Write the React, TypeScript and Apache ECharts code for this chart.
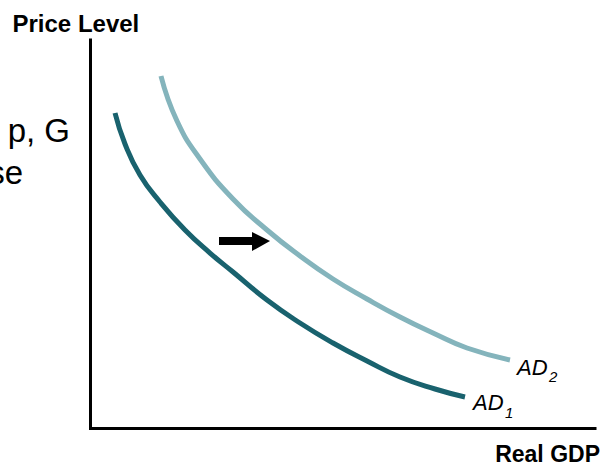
import React, { useEffect, useRef } from "react";
import * as echarts from "echarts";

// Aggregate demand curves, in axis units (0–100 on both axes)
const ad1X = [4.86, 6.84, 9.81, 13.77, 18.73, 23.69, 28.25, 34.99, 41.53, 48.07, 54.81, 61.35, 68.29, 74.23];
const ad1Y = [81.19, 73.2, 65.21, 58.25, 51.03, 45.1, 40.21, 32.99, 27.06, 21.91, 17.27, 13.14, 10.05, 7.99];
const ad2X = [13.97, 17.15, 21.71, 28.25, 34.99, 41.53, 48.07, 54.81, 61.35, 67.89, 74.63, 83.15];
const ad2Y = [90.72, 79.12, 69.33, 59.02, 51.03, 44.33, 38.4, 33.25, 28.61, 24.48, 20.62, 17.53];

const axisNames = ["Price Level", "Real GDP"];
const curveNames = ["AD", "AD"];
const curveSubs = ["1", "2"];
const sideText = ["p, G", "se"];

const FONT = "'Liberation Sans', Arial, Helvetica, sans-serif";
const DARK = "#19626e";
const LIGHT = "#84b4bc";

export default function App() {
  const ref = useRef<HTMLDivElement>(null);
  useEffect(() => {
    document.body.style.margin = "0";
    if (!ref.current) return;
    const chart = echarts.init(ref.current, undefined, { renderer: "svg" });
    const pair = (xs: number[], ys: number[]) => xs.map((x, i) => [x, ys[i]]);
    chart.setOption({
      animation: false,
      backgroundColor: "#ffffff",
      grid: { left: 90.5, right: 8, top: 40, bottom: 39 },
      xAxis: {
        type: "value",
        min: 0,
        max: 100,
        axisLine: { show: true, lineStyle: { color: "#000", width: 3, cap: "square" } },
        axisTick: { show: false },
        axisLabel: { show: false },
        splitLine: { show: false },
      },
      yAxis: {
        type: "value",
        min: 0,
        max: 100,
        axisLine: { show: true, lineStyle: { color: "#000", width: 3, cap: "square" } },
        axisTick: { show: false },
        axisLabel: { show: false },
        splitLine: { show: false },
      },
      series: [
        {
          type: "line",
          name: "AD1",
          data: pair(ad1X, ad1Y),
          smooth: 0.5,
          symbol: "none",
          lineStyle: { color: DARK, width: 5 },
        },
        {
          type: "line",
          name: "AD2",
          data: pair(ad2X, ad2Y),
          smooth: 0.5,
          symbol: "none",
          lineStyle: { color: LIGHT, width: 5 },
        },
      ],
      graphic: [
        {
          type: "text",
          x: 12.5,
          y: 23.5,
          style: { text: axisNames[0], font: `bold 24px ${FONT}`, fill: "#000", verticalAlign: "middle" },
        },
        {
          type: "text",
          x: 600,
          y: 453.5,
          style: { text: axisNames[1], font: `bold 23px ${FONT}`, fill: "#000", align: "right", verticalAlign: "middle" },
        },
        {
          type: "text",
          x: 70,
          y: 130,
          style: { text: sideText[0], font: `33px ${FONT}`, fill: "#000", align: "right", verticalAlign: "middle" },
        },
        {
          type: "text",
          x: 23,
          y: 172,
          style: { text: sideText[1], font: `33px ${FONT}`, fill: "#000", align: "right", verticalAlign: "middle" },
        },
        {
          type: "text",
          x: 473,
          y: 402,
          style: { text: curveNames[0], font: `italic 22px ${FONT}`, fill: "#000", verticalAlign: "middle" },
        },
        {
          type: "text",
          x: 505,
          y: 412,
          style: { text: curveSubs[0], font: `italic 15px ${FONT}`, fill: "#000", verticalAlign: "middle" },
        },
        {
          type: "text",
          x: 517,
          y: 367,
          style: { text: curveNames[1], font: `italic 22px ${FONT}`, fill: "#000", verticalAlign: "middle" },
        },
        {
          type: "text",
          x: 549,
          y: 376,
          style: { text: curveSubs[1], font: `italic 15px ${FONT}`, fill: "#000", verticalAlign: "middle" },
        },
        {
          type: "polygon",
          shape: {
            points: [
              [219, 237],
              [252, 237],
              [252, 232],
              [270, 241],
              [252, 251],
              [252, 245],
              [219, 245],
            ],
          },
          style: { fill: "#000" },
        },
      ],
    });
    return () => chart.dispose();
  }, []);
  return <div ref={ref} style={{ width: 603, height: 467 }} />;
}
